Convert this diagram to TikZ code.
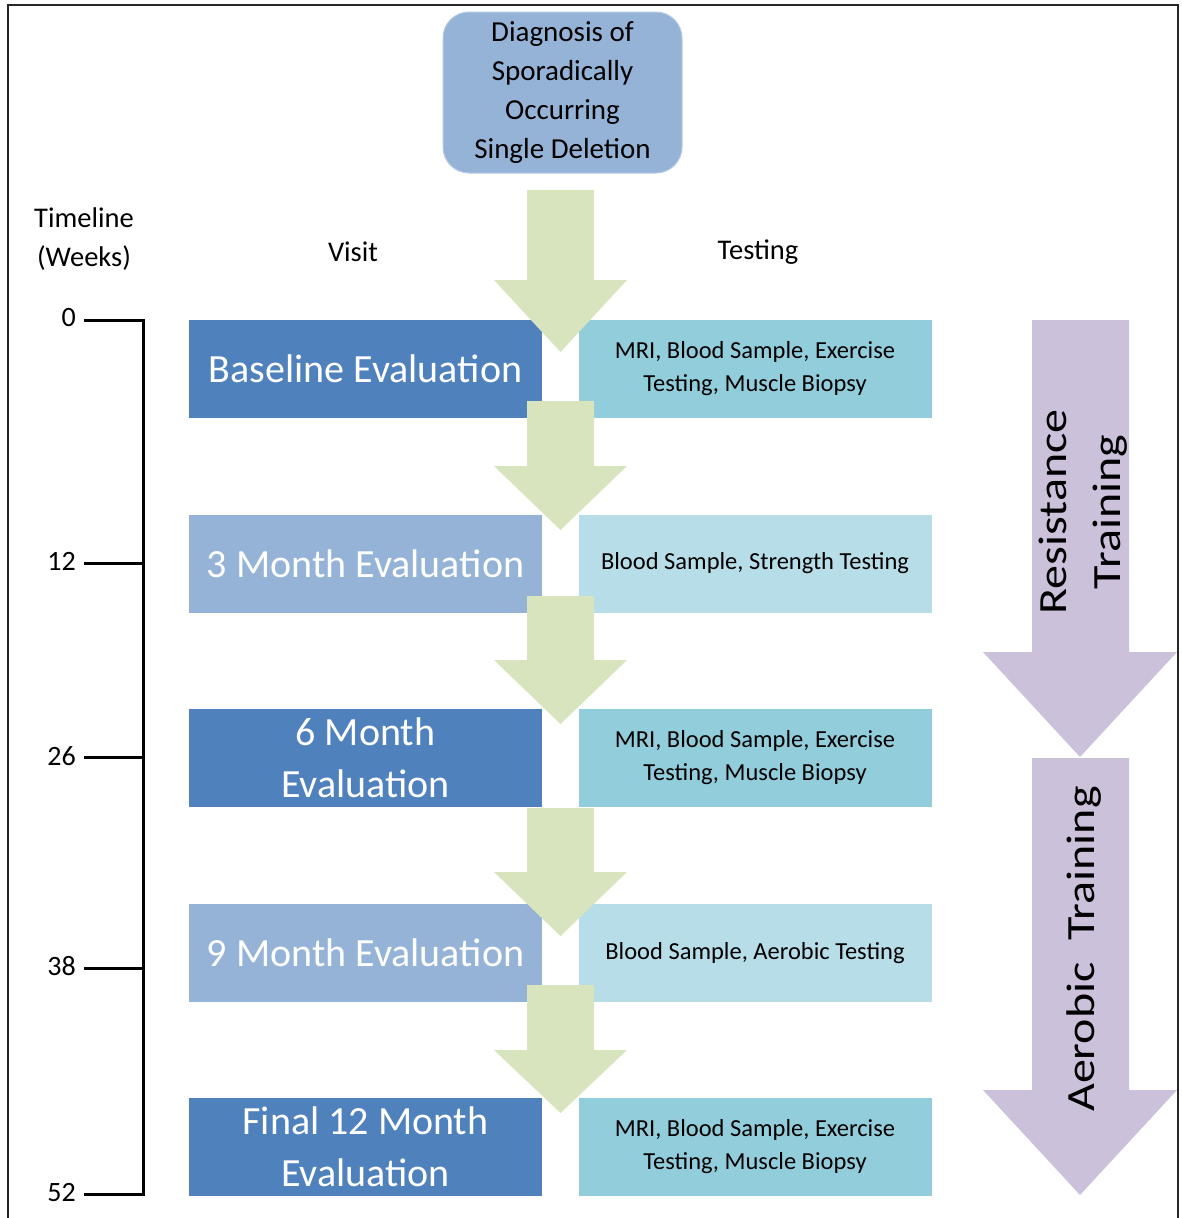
\documentclass[tikz,border=0pt]{standalone}
\usepackage{fontspec}
\setmainfont{Carlito}
\usepackage{graphicx}
\usepackage{tikz}
\usetikzlibrary{positioning,calc}
\definecolor{accdark}{HTML}{4F81BD}
\definecolor{acclight}{HTML}{95B3D7}
\definecolor{testdark}{HTML}{92CDDC}
\definecolor{testlight}{HTML}{B7DEE8}
\definecolor{flowgreen}{HTML}{D7E4BD}
\definecolor{trainpurple}{HTML}{CCC1DA}
\newcommand{\widetxt}[1]{\scalebox{1.2}[1]{#1}}

\begin{document}
\begin{tikzpicture}[
    x=1pt, y=-1pt,
    basebox/.style={
      inner sep=0pt,
      align=center,
      minimum width=353pt,
      minimum height=98pt
    },
    visitdark/.style={basebox, fill=accdark, text=white, font=\fontsize{40}{52}\selectfont},
    visitlight/.style={basebox, fill=acclight, text=white, font=\fontsize{40}{52}\selectfont},
    testdark/.style={basebox, fill=testdark, font=\fontsize{24.5}{33}\selectfont},
    testlight/.style={basebox, fill=testlight, font=\fontsize{24.5}{33}\selectfont},
    diagbox/.style={
      rounded corners=26pt, fill=acclight, draw=acclight!70!white, line width=1pt,
      minimum width=239pt, minimum height=161pt, align=center,
      font=\fontsize{29}{39}\selectfont
    },
    head/.style={align=center, font=\fontsize{28.5}{39}\selectfont},
    week/.style={anchor=east, inner sep=0pt, font=\fontsize{28}{30}\selectfont},
    greenarrow/.style={fill=flowgreen},
    trainarrow/.style={fill=trainpurple},
    trainlab/.style={rotate=90, align=center, font=\fontsize{40}{54}\selectfont},
    timeline/.style={line width=3pt, black},
    frame/.style={line width=1.5pt, black!85}
  ]
    \useasboundingbox (0,0) rectangle (1181,1218);
    \draw[frame] (8,1218) -- (8,5) -- (1178,5) -- (1178,1218);

    \node[diagbox] (diag) at (562.5,92.5) {
      Diagnosis of\\
      Sporadically\\
      Occurring\\
      Single Deletion
    };

    \node[head] (timehead) at (84,239) {Timeline\\(Weeks)};
    \node[head] (visithead) at (353,252) {Visit};
    \node[head] (testhead) at (758,252) {Testing};

    % visits
    \node[visitdark] (base) at (365.5,369) {Baseline Evaluation};
    \node[visitlight] (threeMo) at (365.5,563.5) {3 Month Evaluation};
    \node[visitdark] (sixMo) at (365.5,758) {6 Month\\Evaluation};
    \node[visitlight] (nineMo) at (365.5,953) {9 Month Evaluation};
    \node[visitdark] (finalMo) at (365.5,1147) {Final 12 Month\\Evaluation};

    % testing
    \node[testdark] (testBase) at (755,369) {MRI, Blood Sample, Exercise\\Testing, Muscle Biopsy};
    \node[testlight] (testThree) at (755,563.5) {Blood Sample, Strength Testing};
    \node[testdark] (testSix) at (755,758) {MRI, Blood Sample, Exercise\\Testing, Muscle Biopsy};
    \node[testlight] (testNine) at (755,953) {Blood Sample, Aerobic Testing};
    \node[testdark] (testFinal) at (755,1147) {MRI, Blood Sample, Exercise\\Testing, Muscle Biopsy};

    % flow arrows
    \foreach \ya/\yb/\yc in {190/280/352, 401/466/530, 596/660/724, 808/872/936, 985/1050/1113}
      \fill[greenarrow] (527,\ya) -- (594,\ya) -- (594,\yb) -- (627,\yb)
        -- (560.5,\yc) -- (494,\yb) -- (527,\yb) -- cycle;

    % training arrows
    \fill[trainarrow] (1032,320) -- (1129,320) -- (1129,652) -- (1177,652)
      -- (1080,757) -- (983,652) -- (1032,652) -- cycle;
    \fill[trainarrow] (1032,758) -- (1129,758) -- (1129,1090) -- (1177,1090)
      -- (1080,1195) -- (983,1090) -- (1032,1090) -- cycle;
    \node[trainlab] (resist) at (1083,512) {\widetxt{Resistance}\\\widetxt{Training}};
    \node[trainlab] (aerobic) at (1084,949) {\widetxt{Aerobic~ Training}};

    % timeline
    \draw[timeline] (84,320) -- (143,320) -- (143,1194) -- (84,1194);
    \foreach \yy in {563,757,968}
      \draw[timeline] (84,\yy) -- (143,\yy);
    \foreach \yy/\wk in {318/0,561/12,756/26,966/38,1192/52}
      \node[week] (wk\wk) at (76,\yy) {\wk};
  \end{tikzpicture}
\end{document}
